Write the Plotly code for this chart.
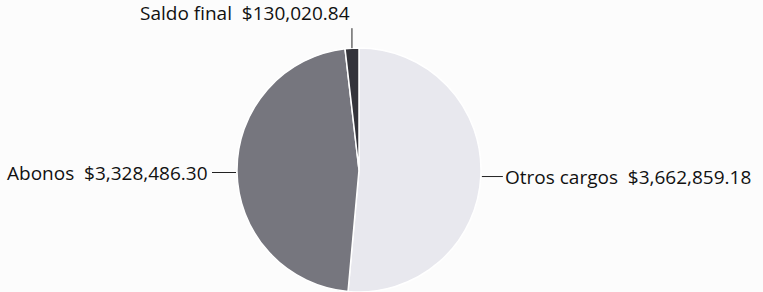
import math
import plotly.graph_objects as go

labels = ["Otros cargos", "Abonos", "Saldo final"]
values = [3662859.18, 3328486.30, 130020.84]
colors = ["#e8e8ee", "#76767e", "#34343a"]

W, H = 763, 292
cx, cy, r = 359, 171, 123  # pie centre / radius in px

fig = go.Figure(go.Pie(
    labels=labels, values=values, sort=False, direction="clockwise", rotation=0,
    marker=dict(colors=colors, line=dict(color="#ffffff", width=1.5)),
    textinfo="none", hoverinfo="label+value",
    domain=dict(x=[(cx - r) / W, (cx + r) / W], y=[max(0, (H - cy - r) / H), (H - cy + r) / H]),
    showlegend=False,
))

total = sum(values)
cum = 0
for lab, val in zip(labels, values):
    mid = (cum + val / 2) / total * 2 * math.pi
    cum += val
    tx = cx + r * math.sin(mid)
    ty = cy - r * math.cos(mid)
    s = math.sin(mid)
    if abs(s) > 0.5:
        ax, ay = (21 if s > 0 else -24), 0
        xa = "left" if s > 0 else "right"
        ya = "middle"
        pad = 1 if s > 0 else 3
    else:
        ax, ay = 0, -20
        xa, ya = "right", "bottom"
        pad = 1
    fig.add_annotation(
        x=tx / W, y=(H - ty) / H, xref="paper", yref="paper",
        text=f"{lab}  ${val:,.2f}", showarrow=True, arrowhead=0, arrowwidth=1,
        arrowcolor="#222222", ax=ax, ay=ay, xanchor=xa, yanchor=ya, standoff=0,
        borderpad=pad,
        font=dict(family="Open Sans", size=19, color="#111111"),
    )

fig.update_layout(
    width=W, height=H, margin=dict(l=0, r=0, t=0, b=0),
    paper_bgcolor="#fcfcfc", plot_bgcolor="#fcfcfc",
)
fig.write_html("out.html", config={"displayModeBar": False},
               post_script="document.body.style.margin='0';document.body.style.overflow='hidden';")
